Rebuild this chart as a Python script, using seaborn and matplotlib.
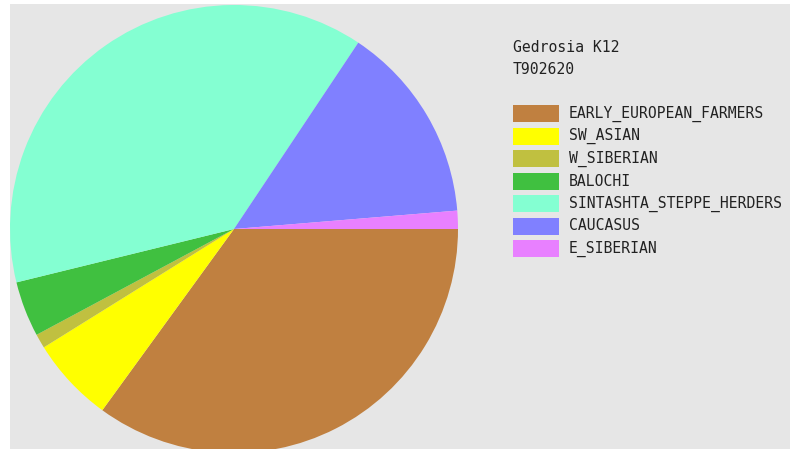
"""Gedrosia K12 admixture pie for sample T902620."""
import matplotlib
matplotlib.use("Agg")
import matplotlib.pyplot as plt
from matplotlib.patches import Rectangle
import seaborn as sns

# components, listed clockwise from 3 o'clock (same order as the legend)
components = [
    "EARLY_EUROPEAN_FARMERS",
    "SW_ASIAN",
    "W_SIBERIAN",
    "BALOCHI",
    "SINTASHTA_STEPPE_HERDERS",
    "CAUCASUS",
    "E_SIBERIAN",
]
percent = [35.0, 6.14, 1.03, 4.0, 38.19, 14.33, 1.31]
colors = ["#c08040", "#ffff00", "#c0c040", "#40c040", "#84ffd2", "#8080ff", "#e880ff"]

title_lines = ["Gedrosia K12", "T902620"]

sns.set_style("white")
plt.rcParams["font.family"] = ["DejaVu Sans Mono"]

W, H = 791, 449
fig = plt.figure(figsize=(W / 100, H / 100), dpi=100)
fig.patch.set_facecolor("white")

# grey panel; data units are pixels, y measured up from the bottom of the image
ax = fig.add_axes([10 / W, 0, 780 / W, 445 / H])
palette = sns.color_palette(colors)
ax.pie(percent, colors=palette, startangle=0, counterclock=False,
       center=(234, H - 229), radius=224, frame=True,
       wedgeprops=dict(linewidth=0, antialiased=True))
ax.set_xlim(10, 790)
ax.set_ylim(0, 445)
ax.set_facecolor("#e6e6e6")
for s in ax.spines.values():
    s.set_visible(False)
ax.set_xticks([])
ax.set_yticks([])

txt_color = "#222222"
fs = 10.6
for i, line in enumerate(title_lines):
    ax.text(513, H - (47 + 22 * i), line, fontsize=fs, color=txt_color,
            va="center", ha="left")

# legend drawn as a column of swatches
row0, step = 113.5, 22.5
for i, (name, c) in enumerate(zip(components, palette)):
    yc = H - (row0 + step * i)
    ax.add_patch(Rectangle((513, yc - 8.5), 46, 17, facecolor=c,
                           edgecolor="none", clip_on=False))
    ax.text(569, yc, name, fontsize=fs, color=txt_color, va="center", ha="left")

fig.savefig("out.png", dpi=100, facecolor=fig.get_facecolor())
